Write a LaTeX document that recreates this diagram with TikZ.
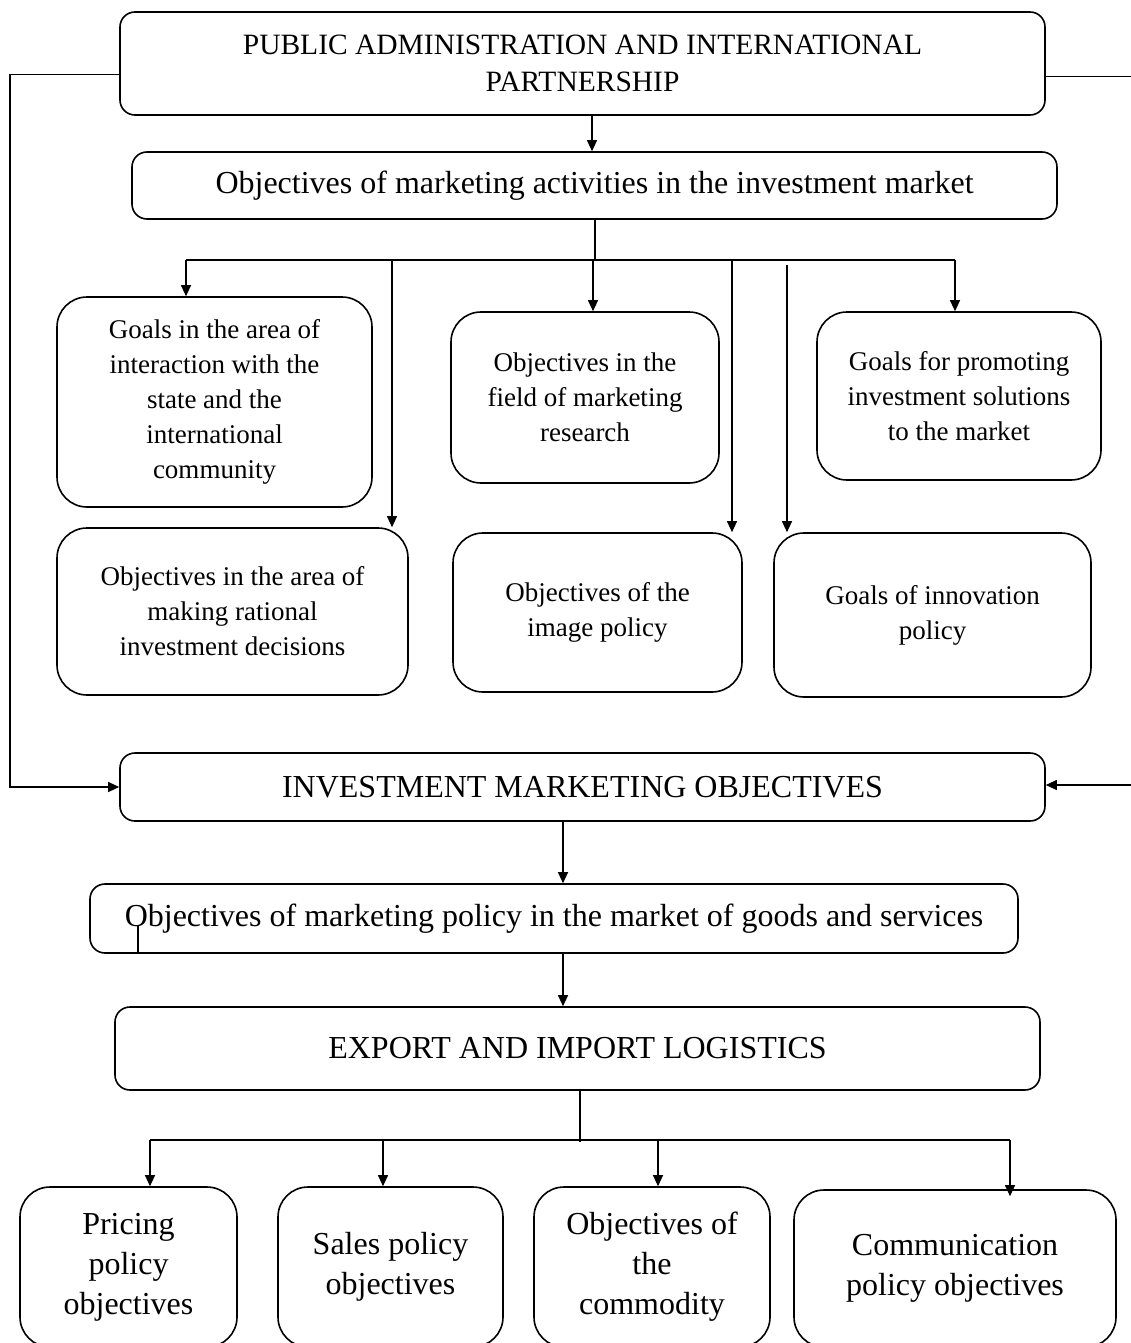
\documentclass[tikz,border=0pt]{standalone}
\usepackage{fontspec}
\setmainfont{Liberation Serif}
\usetikzlibrary{arrows.meta,calc}

\begin{document}
\begin{tikzpicture}[x=1pt, y=-1pt,
  box/.style={draw, line width=1.6pt, rounded corners=15pt, align=center, inner sep=0pt},
  goal/.style={box, rounded corners=30pt, font=\fontsize{27}{35}\selectfont},
  leaf/.style={box, rounded corners=30pt, font=\fontsize{32}{40}\selectfont},
  >={Triangle[length=11pt,width=10pt]}, line width=1.1pt
]
  \useasboundingbox (0,0) rectangle (1131,1343);
  \clip (0,0) rectangle (1131,1343);

  \node[box, minimum width=925pt, minimum height=103pt, font=\fontsize{29.5}{37}\selectfont]
        (top) at (582.5,63.5) {PUBLIC ADMINISTRATION AND INTERNATIONAL\\PARTNERSHIP};
  \node[box, minimum width=925pt, minimum height=67pt, font=\fontsize{32}{36}\selectfont]
        (obj) at (594.5,185.5) {Objectives of marketing activities in the investment market};

  \node[goal, minimum width=315pt, minimum height=210pt] (g1) at (214.5,402)
        {Goals in the area of\\interaction with the\\state and the\\international\\community};
  \node[goal, minimum width=268pt, minimum height=171pt] (g2) at (585,397.5)
        {Objectives in the\\field of marketing\\research};
  \node[goal, minimum width=284pt, minimum height=168pt] (g3) at (959,396)
        {Goals for promoting\\investment solutions\\to the market};
  \node[goal, minimum width=351pt, minimum height=167pt] (g4) at (232.5,611.5)
        {Objectives in the area of\\making rational\\investment decisions};
  \node[goal, minimum width=289pt, minimum height=159pt] (g5) at (597.5,612.5)
        {Objectives of the\\image policy};
  \node[goal, minimum width=317pt, minimum height=164pt] (g6) at (932.5,615)
        {Goals of innovation\\policy};

  \node[box, minimum width=925pt, minimum height=68pt, font=\fontsize{32}{36}\selectfont]
        (inv) at (582.5,787) {INVESTMENT MARKETING OBJECTIVES};
  \node[box, minimum width=928pt, minimum height=69pt, font=\fontsize{32}{36}\selectfont]
        (pol) at (554,918.5) {Objectives of marketing policy in the market of goods and services};
  \node[box, minimum width=925pt, minimum height=83pt, font=\fontsize{32}{36}\selectfont]
        (log) at (577.5,1048.5) {EXPORT AND IMPORT LOGISTICS};

  \node[leaf, minimum width=217pt, minimum height=160pt] (p1) at (128.5,1267)
        {Pricing\\policy\\objectives};
  \node[leaf, minimum width=225pt, minimum height=160pt] (p2) at (390.5,1267)
        {Sales policy\\objectives};
  \node[leaf, minimum width=236pt, minimum height=160pt] (p3) at (652,1267)
        {Objectives of\\the\\commodity};
  \node[leaf, minimum width=322pt, minimum height=157pt] (p4) at (955,1268.5)
        {Communication\\policy objectives};

  % feedback lines round the left and right
  \coordinate (lx) at (10,0);
  \draw[->] ($(top.west)+(0,11)$) -| (lx |- inv.west) -- (inv.west);
  \draw ($(top.east)+(0,13)$) -- +(100,0);
  \draw[<-] ($(inv.east)+(0,-2)$) -- +(100,0);

  \coordinate (xt) at (592,0);
  \draw[->] (top.south -| xt) -- (obj.north -| xt);

  % header to the goal boxes
  \coordinate (hub) at (595,260);
  \coordinate (b1) at (186,260);
  \coordinate (b2) at (392,260);
  \coordinate (b3) at (593,260);
  \coordinate (b4) at (732,260);
  \coordinate (b5) at (787,265);
  \coordinate (b6) at (955,260);
  \draw (obj.south -| hub) -- (hub);
  \draw (b1) -- (b6);
  \draw[->] (b1) -- (b1 |- g1.north);
  \draw[->] (b2) -- (b2 |- g4.north);
  \draw[->] (b3) -- (b3 |- g2.north);
  \draw[->] (b4) -- (b4 |- g5.north);
  \draw[->] (b5) -- (b5 |- g6.north);
  \draw[->] (b6) -- (b6 |- g3.north);

  \coordinate (xa) at (563,0);
  \coordinate (xs) at (138,0);
  \draw[->] (inv.south -| xa) -- (pol.north -| xa);
  \draw[->] (pol.south -| xa) -- (log.north -| xa);
  \draw (pol.south -| xs) -- ++(0,-28);

  % logistics to the four policy boxes
  \coordinate (c0) at (580,1142);
  \coordinate (c1) at (150,1140);
  \coordinate (c2) at (383,1140);
  \coordinate (c3) at (658,1140);
  \coordinate (c4) at (1010,1140);
  \draw (log.south -| c0) -- (c0);
  \draw (c1) -- (c4);
  \draw[->] (c1) -- (c1 |- p1.north);
  \draw[->] (c2) -- (c2 |- p2.north);
  \draw[->] (c3) -- (c3 |- p3.north);
  \draw[->] (c4) -- ($(c4 |- p4.north)+(0,7)$);
\end{tikzpicture}
\end{document}
